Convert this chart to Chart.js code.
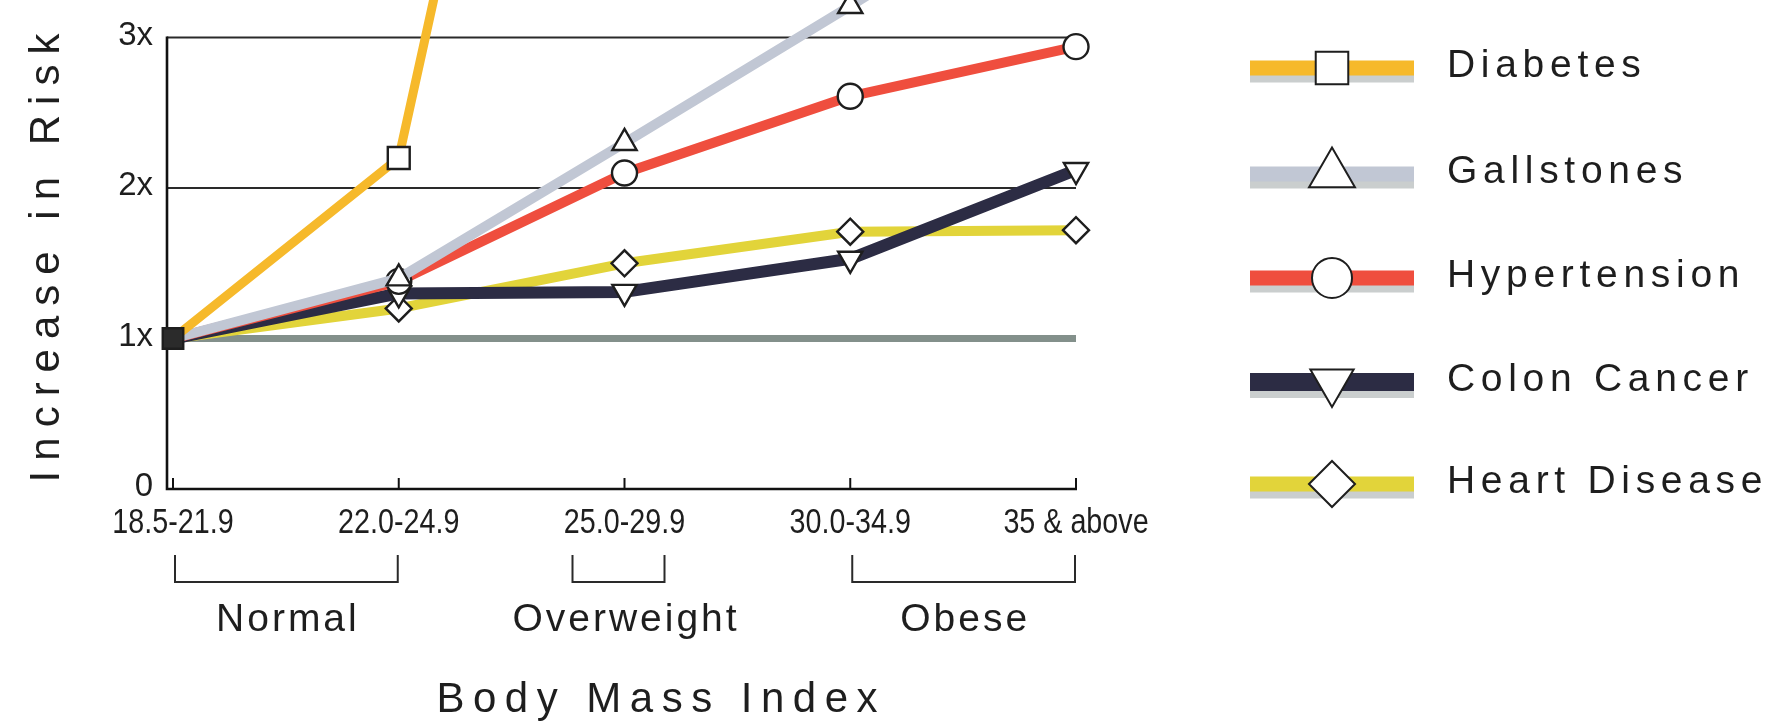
<!DOCTYPE html>
<html>
<head>
<meta charset="utf-8">
<title>Increase in Risk by Body Mass Index</title>
<script src="https://cdn.jsdelivr.net/npm/chart.js@4.4.1/dist/chart.umd.min.js"></script>
<style>
  html, body { margin: 0; padding: 0; background: #ffffff; }
  #wrap { width: 1783px; height: 723px; position: relative; }
  canvas { display: block; }
</style>
</head>
<body>
<div id="wrap"><canvas id="riskChart" width="1783" height="723"></canvas></div>
<script>
// BMI ranges along the bottom axis
const bmiCategories = ['18.5-21.9', '22.0-24.9', '25.0-29.9', '30.0-34.9', '35 & above'];
// labels for the risk multiples on the vertical axis
const riskTickLabels = ['0', '1x', '2x', '3x'];

// relative risk for each condition, one value per BMI range
const diabetes     = [1, 2.2, 9.0, 14.0, 19.5];
const gallstones   = [1, 1.4, 2.3, 3.21, 4.15];
const hypertension = [1, 1.38, 2.1, 2.61, 2.94];
const colonCancer  = [1, 1.3, 1.31, 1.53, 2.12];
const heartDisease = [1, 1.2, 1.5, 1.71, 1.72];

// weight classes shown under the BMI ranges (first and last category index)
const weightGroups = ['Normal', 'Overweight', 'Obese'];
const weightGroupRanges = [[0, 1], [2, 2], [3, 4]];

const BODY_FONT = "'Liberation Sans', Arial, Helvetica, sans-serif";
const INK = '#1e1e1e';

function series(label, data, color, width, style, radius, rotation, legendRadius) {
  return {
    label: label,
    data: data,
    borderColor: color,
    backgroundColor: color,
    borderWidth: width,
    borderJoinStyle: 'round',
    tension: 0,
    fill: false,
    pointStyle: style,
    pointRotation: rotation,
    pointRadius: (c) => (c.dataIndex === 0 ? 0 : radius),
    pointBackgroundColor: '#ffffff',
    pointBorderColor: INK,
    pointBorderWidth: 2.4,
    pointHoverRadius: radius,
    legendRadius: legendRadius
  };
}

const datasets = [
  series('Diabetes',      diabetes,     '#f6b92b', 9,  'rect',     15.5, 0,   23),
  series('Gallstones',    gallstones,   '#c1c7d4', 10, 'triangle', 14,   0,   26.5),
  series('Hypertension',  hypertension, '#ef4e3e', 10, 'circle',   12.5, 0,   20),
  series('Colon Cancer',  colonCancer,  '#2c2c44', 12, 'triangle', 14,   180, 25),
  series('Heart Disease', heartDisease, '#e2d43a', 10, 'rectRot',  13,   0,   23)
];
// the shared starting point is marked with a solid square
datasets[0].pointRadius = (c) => (c.dataIndex === 0 ? 14.5 : 15.5);
datasets[0].pointBackgroundColor = (c) => (c.dataIndex === 0 ? '#2b2b2b' : '#ffffff');

function spacedText(ctx, text, x, y, spacing, align) {
  ctx.letterSpacing = '0px';
  const w = ctx.measureText(text).width + spacing * (text.length - 1);
  ctx.letterSpacing = spacing + 'px';
  let start = x;
  if (align === 'center') start = x - w / 2;
  ctx.textAlign = 'left';
  ctx.fillText(text, start, y);
  ctx.letterSpacing = '0px';
}

const frame = {
  id: 'frame',
  beforeDatasetsDraw(chart) {
    const { ctx, scales: { x, y } } = chart;
    const axisX = chart.chartArea.left - 6;
    const x0 = x.getPixelForValue(0);
    const xEnd = x.getPixelForValue(bmiCategories.length - 1);
    const base = y.getPixelForValue(0);
    ctx.save();
    // reference band at 1x
    ctx.strokeStyle = '#83908b';
    ctx.lineWidth = 7;
    ctx.beginPath();
    ctx.moveTo(x0, y.getPixelForValue(1));
    ctx.lineTo(xEnd, y.getPixelForValue(1));
    ctx.stroke();
    // gridlines at 2x and 3x
    ctx.strokeStyle = '#2a2a2a';
    ctx.lineWidth = 2;
    [2, 3].forEach((v) => {
      const py = y.getPixelForValue(v);
      ctx.beginPath();
      ctx.moveTo(axisX, py);
      ctx.lineTo(xEnd, py);
      ctx.stroke();
    });
    // axes
    ctx.strokeStyle = '#111';
    ctx.lineWidth = 2.6;
    ctx.beginPath();
    ctx.moveTo(axisX, y.getPixelForValue(3) - 1);
    ctx.lineTo(axisX, base);
    ctx.lineTo(xEnd + 1, base);
    ctx.stroke();
    // inward tick marks at each BMI range
    ctx.lineWidth = 2;
    bmiCategories.forEach((_, i) => {
      const px = x.getPixelForValue(i);
      ctx.beginPath();
      ctx.moveTo(px, base);
      ctx.lineTo(px, base - 11);
      ctx.stroke();
    });
    // BMI range labels, set in a condensed face
    ctx.fillStyle = INK;
    ctx.font = '35px ' + BODY_FONT;
    ctx.textAlign = 'center';
    ctx.textBaseline = 'middle';
    chart.data.labels.forEach((lab, i) => {
      ctx.save();
      ctx.translate(x.getPixelForValue(i), 523);
      ctx.scale(0.82, 1);
      ctx.fillText(lab, 0, 0);
      ctx.restore();
    });
    ctx.restore();
  },
  afterDraw(chart) {
    const { ctx, scales: { x } } = chart;
    ctx.save();
    ctx.fillStyle = INK;
    ctx.strokeStyle = '#2a2a2a';
    ctx.lineWidth = 2;

    // weight class brackets and names
    const top = 555, bottom = 582;
    weightGroups.forEach((name, g) => {
      const [a, b] = weightGroupRanges[g];
      let left = x.getPixelForValue(a) + 2;
      let right = x.getPixelForValue(b) - 1;
      if (a === b) { left = x.getPixelForValue(a) - 52; right = x.getPixelForValue(a) + 40; }
      ctx.beginPath();
      ctx.moveTo(left, top);
      ctx.lineTo(left, bottom);
      ctx.lineTo(right, bottom);
      ctx.lineTo(right, top);
      ctx.stroke();
      ctx.font = '39px ' + BODY_FONT;
      ctx.textBaseline = 'middle';
      const cx = a === b ? x.getPixelForValue(a) : (left + right) / 2;
      spacedText(ctx, name, cx, 620, 3, 'center');
    });

    // axis titles
    ctx.font = '42px ' + BODY_FONT;
    ctx.textBaseline = 'middle';
    spacedText(ctx, 'Body Mass Index', 657, 700, 8.5, 'center');
    ctx.save();
    ctx.translate(47, 258);
    ctx.rotate(-Math.PI / 2);
    spacedText(ctx, 'Increase in Risk', 0, 0, 10, 'center');
    ctx.restore();

    // legend: thick line sample with the series marker on top
    const rowY = [68, 174, 278, 382, 484];
    const barLeft = 1250, barRight = 1414, markX = 1332;
    chart.data.datasets.forEach((ds, i) => {
      const cy = rowY[i];
      const thick = i === 3 ? 18 : 15;
      ctx.fillStyle = 'rgba(150,158,158,0.5)';
      ctx.fillRect(barLeft, cy + thick / 2 - 1, barRight - barLeft, 8);
      ctx.fillStyle = ds.borderColor;
      ctx.fillRect(barLeft, cy - thick / 2, barRight - barLeft, thick);
      ctx.fillStyle = '#ffffff';
      ctx.strokeStyle = INK;
      Chart.helpers.drawPoint(ctx, {
        pointStyle: ds.pointStyle,
        rotation: ds.pointRotation,
        radius: ds.legendRadius,
        borderWidth: 3
      }, markX, cy);
      ctx.fillStyle = INK;
      ctx.font = '39px ' + BODY_FONT;
      ctx.textBaseline = 'middle';
      spacedText(ctx, ds.label, 1447, cy - 2, 5.7, 'left');
    });
    ctx.restore();
  }
};

new Chart(document.getElementById('riskChart'), {
  type: 'line',
  data: { labels: bmiCategories, datasets: datasets },
  options: {
    responsive: false,
    animation: false,
    devicePixelRatio: 1,
    layout: { autoPadding: false, padding: { left: 0, right: 707, top: 0, bottom: 0 } },
    plugins: { legend: { display: false }, tooltip: { enabled: false } },
    scales: {
      x: {
        type: 'category',
        offset: false,
        grid: { display: false, drawTicks: false },
        border: { display: false },
        ticks: { display: false, autoSkip: false, maxRotation: 0 },
        afterFit(scale) {
          scale.height = 234;
          scale.paddingLeft = 0;
          scale.paddingRight = 0;
        }
      },
      y: {
        min: 0,
        max: 3.25,
        grid: { display: false, drawTicks: false },
        border: { display: false },
        afterBuildTicks(scale) {
          scale.ticks = riskTickLabels.map((_, v) => ({ value: v }));
        },
        ticks: {
          padding: 20,
          labelOffset: -2,
          color: INK,
          font: { family: BODY_FONT, size: 33 },
          callback: (v) => riskTickLabels[v]
        },
        afterFit(scale) {
          scale.width = 173;
          scale.paddingTop = 0;
          scale.paddingBottom = 0;
        }
      }
    }
  },
  plugins: [frame]
});
</script>
</body>
</html>
